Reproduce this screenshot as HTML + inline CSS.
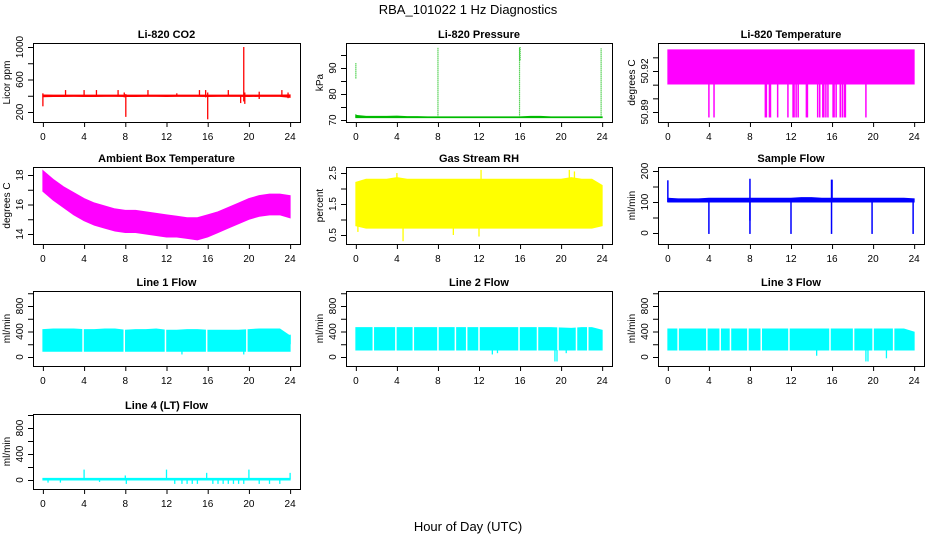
<!DOCTYPE html>
<html><head><meta charset="utf-8"><style>
html,body{margin:0;padding:0;background:#fff}
svg{display:block;font-family:"Liberation Sans",sans-serif}
</style></head><body>
<svg id="c" width="936" height="540" viewBox="0 0 936 540">
<text x="468" y="14" font-size="13" text-anchor="middle">RBA_101022  1 Hz Diagnostics</text>
<text x="468" y="531" font-size="13" text-anchor="middle">Hour of Day (UTC)</text>
</svg>
<script>
// ---- shared data ----
const hours = [0,1,2,3,4,5,6,7,8,9,10,11,12,13,14,15,16,17,18,19,20,21,22,23,24];
const xTicks = [0,4,8,12,16,20,24];

// CO2
const co2Lo = [388,391,391,392,391,391,392,392,391,391,392,392,391,392,392,392,391,392,392,392,391,392,392,392,380];
const co2Hi = [410,407,408,408,407,408,408,407,408,408,408,408,407,408,408,408,408,408,408,408,408,408,408,408,410];
const co2SpikeT = [0,2.2,4,5.2,7.3,7.9,8.05,10.2,13,15.2,15.8,16,18,19.2,19.5,19.6,21,23.2,23.8];
const co2SpikeLo = [270,400,400,400,400,380,140,400,400,400,380,110,400,310,330,300,360,400,370];
const co2SpikeHi = [430,470,470,470,470,440,420,470,430,470,470,440,470,410,1000,440,450,470,440];
// Pressure
const presLo = hours.map(()=>70.9);
const presHi = [71.8,71.4,71.4,71.4,71.5,71.3,71.3,71.2,71.2,71.2,71.2,71.2,71.2,71.2,71.2,71.2,71.2,71.4,71.4,71.2,71.2,71.2,71.2,71.2,71.2];
const presSpikeT = [0,0,8,15.95,16,23.9];
const presSpikeLo = [71,86,71,71,93,71];
const presSpikeHi = [72.5,92,98,98,98,97.5];
// Li-820 temperature
const tempLo = hours.map(()=>50.9105);
const tempHi = hours.map(()=>50.9355);
const tempDropT = [4,4.5,9.5,9.6,9.9,10.0,10.7,11.7,12.2,12.3,12.5,12.7,13.5,13.6,14.6,14.8,15.1,15.2,15.4,15.6,16.1,16.2,16.4,16.8,17.0,17.2,17.3,19.3];
const tempDropLo = tempDropT.map(()=>50.886);
const tempDropHi = tempDropT.map(()=>50.911);
// Ambient
const ambHi = [18.3,17.7,17.2,16.8,16.4,16.1,15.9,15.7,15.6,15.6,15.5,15.4,15.3,15.2,15.1,15.1,15.3,15.5,15.8,16.1,16.4,16.6,16.7,16.7,16.6];
const ambLo = [16.9,16.3,15.8,15.3,14.9,14.6,14.4,14.2,14.1,14.1,14.0,13.9,13.8,13.8,13.7,13.6,13.8,14.1,14.4,14.7,15.0,15.2,15.3,15.3,15.1];
// RH
const rhLo = [0.8,0.72,0.72,0.72,0.72,0.72,0.72,0.72,0.72,0.72,0.72,0.72,0.72,0.72,0.72,0.72,0.72,0.72,0.72,0.72,0.72,0.72,0.72,0.72,0.8];
const rhHi = [2.2,2.3,2.3,2.3,2.35,2.3,2.3,2.3,2.3,2.3,2.3,2.3,2.3,2.3,2.3,2.3,2.3,2.3,2.3,2.3,2.3,2.35,2.3,2.3,2.1];
const rhSpikeT = [4.0,4.6,12.2,12.0,20.8,21.3,0.2,9.5];
const rhSpikeLo = [1.5,0.3,1.5,0.45,1.5,1.5,0.6,0.5];
const rhSpikeHi = [2.5,1.5,2.6,1.5,2.6,2.55,1.5,1.5];
// Sample flow
const sfLo = hours.map(()=>100);
const sfHi = [112,110,110,110,112,112,112,112,112,112,112,112,112,114,114,112,112,112,112,112,112,112,112,112,110];
const sfSpikeT = [0,4,8,8,12,15.95,16,19.9,23.9];
const sfSpikeLo = [100,-3,-3,40,-3,-3,100,-3,-3];
const sfSpikeHi = [170,110,110,175,110,172,172,110,110];
// Line flows
const l1Lo = hours.map(()=>90);
const l1Hi = [430,440,440,440,430,430,440,440,420,430,430,440,420,420,430,430,420,420,420,420,430,440,440,440,330];
const l1GapT = [3.9,7.9,11.9,15.9,19.8];
const l1SpikeT = [13.5,19.5,24];
const l1SpikeLo = [40,40,200];
const l1SpikeHi = [100,100,350];
const l2Lo = hours.map(()=>110);
const l2Hi = [460,460,460,460,460,460,460,460,460,460,460,460,460,460,460,460,460,460,460,460,455,450,460,460,420];
const l2GapT = [1.7,3.9,5.6,8.0,9.7,10.8,12.0,15.9,17.7,19.7,21.5,22.6];
const l2SpikeT = [13.3,13.8,19.4,19.6,20.5];
const l2SpikeLo = [40,60,-70,-70,60];
const l2SpikeHi = [110,110,110,110,110];
const l3Lo = hours.map(()=>110);
const l3Hi = [440,440,440,440,440,440,440,440,440,440,440,440,440,440,440,440,440,440,440,440,440,440,440,440,390];
const l3GapT = [1.0,3.8,5.1,6.1,7.8,9.1,11.8,15.8,18.1,20.0,22.0];
const l3SpikeT = [14.5,19.3,19.5,21.3];
const l3SpikeLo = [20,-70,-70,-20];
const l3SpikeHi = [110,110,110,110];
const l4Lo = hours.map(()=>0);
const l4Hi = hours.map(()=>25);
const l4SpikeT = [4,12,20,15.9,8,24,0.5,1.7,5.5,8.1,12.8,13.5,14,14.5,15,16.5,17,17.5,18,18.5,19,19.5,21,22,23];
const l4SpikeLo = [10,10,10,10,10,10,-40,-40,-30,-60,-60,-60,-60,-60,-60,-60,-60,-60,-60,-60,-60,-60,-60,-60,-60];
const l4SpikeHi = [160,160,160,110,70,110,10,10,10,10,10,10,10,10,10,10,10,10,10,10,10,10,10,10,10];

const NS = "http://www.w3.org/2000/svg";
const svg = document.getElementById('c');
function mk(tag, attrs, parent){const e=document.createElementNS(NS,tag);for(const k in attrs)e.setAttribute(k,attrs[k]);(parent||svg).appendChild(e);return e;}

const cols = [{L:33,W:267},{L:346,W:266},{L:658,W:266}];
const rows = [{T:43,B:122},{T:167,B:244},{T:291,B:366},{T:414,B:489}];

function panel(cfg){
  const c=cols[cfg.col], r=rows[cfg.row];
  const g=mk('g',{});
  
  
  const xs=t=>c.L+c.W*(t+0.96)/25.92;
  const [v1,p1,v2,p2]=cfg.ymap;
  const ys=v=>p1+(v-v1)*(p2-p1)/(v2-v1);
  let pts=[];
  for(let i=0;i<hours.length;i++)pts.push(xs(hours[i])+','+ys(cfg.hi[i]));
  for(let i=hours.length-1;i>=0;i--)pts.push(xs(hours[i])+','+ys(cfg.lo[i]));
  const band=mk('polygon',{points:pts.join(' '),fill:cfg.color,stroke:cfg.color,'stroke-width':1},g);
  
  
  (cfg.gaps||[]).forEach(t=>{
    const ln=mk('line',{x1:xs(t),x2:xs(t),y1:r.T+1,y2:r.B-1,stroke:'#fff','stroke-width':1.5},g);
    
    
  });
  if(cfg.sT){
    for(let i=0;i<cfg.sT.length;i++){
      const ln=mk('line',{x1:xs(cfg.sT[i]),x2:xs(cfg.sT[i]),y1:ys(cfg.sLo[i]),y2:ys(cfg.sHi[i]),stroke:cfg.color,'stroke-width':cfg.sw||1.3},g);
      if(cfg.dash)ln.setAttribute('stroke-dasharray',cfg.dash);
      
      
    }
  }
  const box=mk('rect',{x:c.L+0.5,y:r.T+0.5,width:c.W,height:r.B-r.T,fill:'none',stroke:'#000','stroke-width':1},g);
  
  
  const ti=mk('text',{x:c.L+c.W/2,y:r.T-5,'font-size':11,'font-weight':'bold','text-anchor':'middle'},g);
  ti.textContent=cfg.title;
  
  
  mk('line',{x1:xs(0),x2:xs(24),y1:r.B+0.5,y2:r.B+0.5,stroke:'#000'},g);
  xTicks.forEach(t=>{
    mk('line',{x1:xs(t)+0.5,x2:xs(t)+0.5,y1:r.B,y2:r.B+5,stroke:'#000'},g);
    const tx=mk('text',{x:xs(t),y:r.B+18,'font-size':10,'text-anchor':'middle'},g);
    tx.textContent=t;
    
    
  });
  const yt=cfg.yticks;
  mk('line',{x1:c.L+0.5,x2:c.L+0.5,y1:ys(yt[0]),y2:ys(yt[yt.length-1]),stroke:'#000'},g);
  yt.forEach(v=>{
    mk('line',{x1:c.L-5,x2:c.L,y1:ys(v)+0.5,y2:ys(v)+0.5,stroke:'#000'},g);
    if(cfg.ylabels.includes(v)){
      const yy=ys(v), xx=c.L-10;
      const tx=mk('text',{x:xx,y:yy,'font-size':10,'text-anchor':'middle',transform:`rotate(-90 ${xx} ${yy})`},g);
      tx.textContent=cfg.fmt?cfg.fmt(v):v;
      
      
    }
  });
  const my=(r.T+r.B)/2, mx=c.L-23;
  const yl=mk('text',{x:mx,y:my,'font-size':10,'text-anchor':'middle',transform:`rotate(-90 ${mx} ${my})`},g);
  yl.textContent=cfg.ylab;
  
  
}

panel({name:'co2-panel',title:'Li-820 CO2',col:0,row:0,ylab:'Licor ppm',ymap:[200,112,1000,47],yticks:[200,400,600,800,1000],ylabels:[200,600,1000],color:'#ff0000',lo:co2Lo,hi:co2Hi,sT:co2SpikeT,sLo:co2SpikeLo,sHi:co2SpikeHi});
panel({name:'pressure-panel',title:'Li-820 Pressure',col:1,row:0,ylab:'kPa',ymap:[70,120,90,68],yticks:[70,75,80,85,90,95],ylabels:[70,80,90],color:'#00bb00',lo:presLo,hi:presHi,sT:presSpikeT,sLo:presSpikeLo,sHi:presSpikeHi,dash:'1,1',sw:1.2});
panel({name:'li820-temp-panel',title:'Li-820 Temperature',col:2,row:0,ylab:'degrees C',ymap:[50.89,112,50.92,71],yticks:[50.89,50.9,50.91,50.92,50.93],ylabels:[50.89,50.92],fmt:v=>v.toFixed(2),color:'#ff00ff',lo:tempLo,hi:tempHi,sT:tempDropT,sLo:tempDropLo,sHi:tempDropHi,sw:1.5});
panel({name:'ambient-temp-panel',title:'Ambient Box Temperature',col:0,row:1,ylab:'degrees C',ymap:[14,234,18,175],yticks:[14,15,16,17,18],ylabels:[14,16,18],color:'#ff00ff',lo:ambLo,hi:ambHi});
panel({name:'rh-panel',title:'Gas Stream RH',col:1,row:1,ylab:'percent',ymap:[0.5,235,2.5,173],yticks:[0.5,1,1.5,2,2.5],ylabels:[0.5,1.5,2.5],color:'#ffff00',lo:rhLo,hi:rhHi,sT:rhSpikeT,sLo:rhSpikeLo,sHi:rhSpikeHi});
panel({name:'sample-flow-panel',title:'Sample Flow',col:2,row:1,ylab:'ml/min',ymap:[0,233,200,171],yticks:[0,50,100,150,200],ylabels:[0,100,200],color:'#0000ff',lo:sfLo,hi:sfHi,sT:sfSpikeT,sLo:sfSpikeLo,sHi:sfSpikeHi,sw:1.5});
panel({name:'line1-flow-panel',title:'Line 1 Flow',col:0,row:2,ylab:'ml/min',ymap:[0,357,800,306],yticks:[0,200,400,600,800,1000],ylabels:[0,400,800],color:'#00ffff',lo:l1Lo,hi:l1Hi,gaps:l1GapT,sT:l1SpikeT,sLo:l1SpikeLo,sHi:l1SpikeHi});
panel({name:'line2-flow-panel',title:'Line 2 Flow',col:1,row:2,ylab:'ml/min',ymap:[0,357,800,306],yticks:[0,200,400,600,800,1000],ylabels:[0,400,800],color:'#00ffff',lo:l2Lo,hi:l2Hi,gaps:l2GapT,sT:l2SpikeT,sLo:l2SpikeLo,sHi:l2SpikeHi});
panel({name:'line3-flow-panel',title:'Line 3 Flow',col:2,row:2,ylab:'ml/min',ymap:[0,357,800,306],yticks:[0,200,400,600,800,1000],ylabels:[0,400,800],color:'#00ffff',lo:l3Lo,hi:l3Hi,gaps:l3GapT,sT:l3SpikeT,sLo:l3SpikeLo,sHi:l3SpikeHi});
panel({name:'line4-flow-panel',title:'Line 4 (LT) Flow',col:0,row:3,ylab:'ml/min',ymap:[0,480,800,428],yticks:[0,200,400,600,800,1000],ylabels:[0,400,800],color:'#00ffff',lo:l4Lo,hi:l4Hi,sT:l4SpikeT,sLo:l4SpikeLo,sHi:l4SpikeHi});
</script>
</body></html>
